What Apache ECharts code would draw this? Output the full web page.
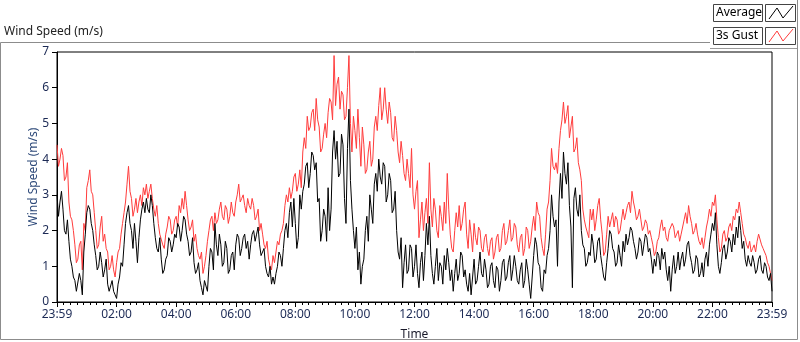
<!DOCTYPE html>
<html>
<head>
<meta charset="utf-8">
<title>Wind Speed</title>
<script src="https://cdn.jsdelivr.net/npm/echarts@6/dist/echarts.min.js"></script>
<style>
  body { margin: 0; background: #fff; }
  #main { width: 800px; height: 342px; }
</style>
</head>
<body>
<div id="main"></div>
<script>
// samples every 3 minutes, from 23:59 to 23:59 next day (one row per hour)
var STEP = 3;
var tickLabels = ['23:59', '02:00', '04:00', '06:00', '08:00', '10:00', '12:00',
                  '14:00', '16:00', '18:00', '20:00', '22:00', '23:59'];

var gust = [
  4.4,3.8, 4.0,4.3, 4.1,3.4, 3.5,3.9, 2.8,2.4, 2.3,2.0, 1.6,1.1, 1.2,1.6, 1.7,0.9, 2.2,2.0,
  3.2,3.4, 3.7,3.1, 3.0,2.5, 2.0,1.5, 1.6,2.1, 2.4,1.7, 1.9,1.5, 1.4,0.9, 1.0,1.3, 0.9,0.7,
  1.1,1.4, 1.5,1.9, 2.2,2.5, 2.8,3.3, 3.8,3.1, 2.9,2.4, 2.6,2.9, 2.5,2.8, 3.0,2.7, 3.2,3.0,
  3.3,2.9, 3.1,3.3, 2.9,2.6, 2.4,2.7, 2.2,1.9, 1.9,1.6, 1.5,1.9, 2.1,2.4, 2.3,1.9, 2.0,2.3,
  2.4,2.1, 2.7,2.5, 2.9,2.6, 3.1,2.7, 2.3,2.0, 2.1,2.3, 1.7,1.9, 1.5,1.3, 1.2,1.4, 0.8,1.0,
  1.3,1.7, 2.0,2.3, 2.4,2.0, 2.5,2.2, 2.3,2.6, 2.8,2.4, 2.3,2.7, 2.6,2.2, 2.4,2.8, 2.5,2.4,
  2.8,3.0, 3.3,2.8, 2.9,3.0, 2.7,2.5, 2.9,2.7, 2.6,2.9, 2.7,2.3, 2.4,2.6, 2.0,2.2, 1.9,1.6,
  1.5,1.7, 1.2,1.0, 0.9,1.3, 1.1,1.4, 1.7,1.6, 1.9,2.0, 2.2,2.7, 3.0,2.8, 3.2,2.9, 3.1,3.5,
  3.6,3.1, 3.3,3.7, 3.2,4.2, 4.6,4.3, 5.2,4.8, 4.9,5.3, 5.4,4.8, 5.7,5.1, 4.9,4.2, 4.3,4.7,
  5.0,4.6, 5.3,5.7, 5.6,5.1, 6.9,5.5, 6.1,6.3, 5.4,5.9, 5.8,5.1, 5.2,6.0, 6.9,5.0, 4.2,5.2,
  4.8,4.3, 5.4,4.6, 3.8,4.9, 4.4,3.6, 3.7,4.2, 4.5,3.8, 4.0,4.9, 5.2,4.8, 5.5,6.0, 5.1,5.4,
  6.0,5.4, 5.0,5.6, 5.3,4.6, 4.5,5.2, 4.8,4.2, 3.9,4.5, 4.1,3.6, 3.4,4.0, 3.6,3.2, 4.3,3.0,
  2.6,3.1, 3.4,1.8, 2.3,2.8, 2.0,2.5, 2.9,2.2, 3.9,2.6, 2.1,2.9, 2.6,2.0, 1.8,2.7, 2.4,2.0,
  2.8,2.2, 3.6,2.6, 1.9,1.5, 1.4,2.0, 2.5,2.1, 2.7,2.0, 2.2,2.6, 2.8,1.9, 1.5,2.3, 1.9,1.4,
  2.2,1.8, 1.6,2.1, 2.0,1.5, 1.4,1.8, 1.9,1.5, 1.3,1.7, 1.8,1.2, 1.4,1.8, 1.9,1.4, 1.5,2.0,
  2.2,1.6, 1.7,2.0, 2.3,1.7, 1.8,2.2, 2.1,1.6, 1.4,1.8, 1.9,1.3, 1.5,2.1, 2.0,1.5, 1.7,2.1,
  2.4,2.0, 2.8,2.5, 2.4,1.8, 1.5,1.3, 1.9,2.6, 2.8,3.4, 4.3,3.8, 3.7,3.9, 3.6,4.3, 4.8,5.1,
  5.6,5.0, 5.2,5.5, 4.6,4.9, 5.2,4.2, 4.3,4.6, 3.9,3.7, 3.4,2.6, 2.3,2.1, 2.1,1.8, 2.6,2.3,
  2.6,2.0, 2.3,2.7, 2.9,2.3, 1.9,1.3, 1.4,1.9, 2.4,2.1, 2.3,2.5, 2.1,2.4, 2.3,1.9, 2.0,2.3,
  2.6,2.3, 2.5,2.7, 2.8,2.5, 3.1,2.8, 2.6,2.3, 2.4,2.6, 2.3,2.0, 2.1,2.3, 2.2,1.9, 2.0,1.8,
  1.6,1.3, 1.4,1.7, 1.8,2.1, 2.3,2.0, 2.1,1.8, 1.7,2.0, 2.0,2.2, 2.1,1.8, 1.9,2.0, 1.7,1.9,
  2.1,2.3, 2.5,2.2, 2.7,2.4, 2.2,1.9, 2.0,2.2, 1.9,1.7, 1.6,1.8, 1.5,1.8, 2.1,2.3, 2.6,2.4,
  2.8,2.7, 3.0,2.3, 1.8,1.4, 1.5,1.9, 2.0,1.7, 1.8,2.1, 2.2,2.0, 2.4,2.3, 2.6,2.5, 2.8,2.5,
  2.2,1.9, 1.8,1.6, 1.5,1.7, 1.4,1.5, 1.6,1.4, 1.7,1.9, 1.9,1.6, 1.5,1.4, 1.3,1.1, 1.0,0.8,
  0.6
];

var average = [
  3.0,2.4, 2.8,3.1, 2.6,2.0, 1.9,2.3, 1.7,1.2, 1.0,0.7, 0.6,0.3, 0.3,0.8, 0.6,0.2, 1.4,1.9,
  2.5,2.7, 2.6,2.2, 2.0,1.6, 1.3,0.9, 1.0,1.4, 1.1,0.7, 0.9,1.2, 0.5,0.3, 0.3,0.6, 0.3,0.2,
  0.1,0.5, 0.7,1.1, 1.0,1.6, 2.2,2.5, 2.7,2.2, 2.0,1.5, 2.2,1.7, 1.1,1.8, 2.3,2.6, 2.8,2.5,
  2.9,2.6, 2.5,3.0, 2.7,2.2, 1.8,1.5, 1.4,1.8, 1.2,0.8, 0.9,1.2, 1.3,1.8, 1.7,1.4, 1.6,1.9,
  1.8,2.2, 2.1,1.7, 2.0,2.4, 2.3,1.9, 1.7,1.3, 1.4,1.8, 1.1,0.8, 0.9,1.1, 0.6,0.4, 0.2,0.6,
  0.6,0.3, 1.0,1.5, 1.4,0.9, 2.2,1.6, 1.3,1.9, 1.6,1.0, 1.1,1.7, 1.5,0.8, 0.9,1.3, 1.4,0.9,
  1.6,1.9, 1.8,1.3, 1.5,1.8, 1.9,1.5, 1.7,1.2, 1.6,1.9, 2.0,1.7, 1.9,2.1, 1.6,1.3, 1.3,1.5,
  1.0,0.8, 0.7,1.0, 0.5,0.7, 0.5,0.8, 1.0,1.4, 1.3,1.0, 1.5,2.0, 2.2,1.8, 2.5,2.8, 2.1,2.9,
  2.2,1.5, 1.8,3.0, 2.6,3.1, 3.3,3.8, 3.9,3.2, 3.6,4.2, 4.1,3.7, 3.9,2.8, 2.9,1.7, 2.0,2.6,
  2.4,1.7, 3.2,2.0, 2.6,4.2, 4.8,4.0, 4.5,3.5, 3.6,4.7, 4.4,2.9, 2.2,4.3, 5.4,3.4, 2.6,2.0,
  1.5,2.1, 0.9,1.4, 0.5,1.0, 1.2,2.0, 2.4,1.7, 3.0,2.6, 2.2,3.3, 3.6,3.1, 4.0,3.5, 3.3,3.9,
  3.8,2.8, 3.0,3.6, 3.4,2.5, 2.6,3.1, 2.0,1.4, 1.2,1.8, 0.4,1.1, 1.6,0.8, 0.9,1.6, 1.5,0.7,
  1.0,1.6, 0.8,0.4, 1.1,1.4, 0.6,1.3, 2.2,1.6, 2.4,1.3, 0.8,0.5, 1.0,1.5, 0.6,1.1, 1.0,0.5,
  1.3,0.9, 1.5,1.1, 0.6,0.9, 0.3,0.8, 1.2,0.6, 0.8,1.4, 1.3,0.7, 0.9,0.5, 0.3,0.8, 0.2,0.7,
  1.2,0.5, 0.6,1.0, 1.4,0.8, 0.7,1.2, 0.9,0.4, 0.5,1.0, 1.1,0.6, 0.4,1.0, 0.9,0.3, 0.6,1.1,
  1.2,0.6, 0.7,1.1, 1.3,0.6, 0.9,1.3, 1.0,0.6, 0.5,0.9, 1.1,0.4, 0.6,1.2, 0.9,0.5, 0.1,0.7,
  1.3,1.8, 1.6,1.1, 1.0,0.4, 0.3,0.9, 0.8,1.3, 1.5,2.0, 3.0,2.4, 2.1,2.3, 1.0,2.8, 3.6,2.9,
  4.2,3.6, 3.3,3.9, 2.7,2.1, 0.4,2.9, 3.2,2.6, 2.4,3.0, 2.0,1.6, 1.5,1.0, 1.1,1.4, 1.3,1.9,
  1.6,1.1, 1.2,1.7, 1.8,1.3, 1.0,0.7, 0.6,1.1, 1.5,2.0, 1.9,1.5, 1.4,1.0, 1.1,1.6, 1.3,1.0,
  1.7,1.4, 1.9,1.6, 1.8,2.1, 2.0,1.7, 1.5,1.2, 1.4,1.8, 1.7,1.3, 1.6,1.9, 1.8,1.4, 1.5,1.2,
  0.8,1.2, 1.0,1.4, 1.3,0.9, 1.5,1.2, 1.4,0.9, 0.6,1.0, 0.3,0.9, 1.3,0.8, 1.0,1.4, 0.9,1.2,
  1.4,1.0, 1.2,1.6, 1.7,1.3, 1.1,0.8, 0.9,1.3, 1.2,0.7, 0.8,1.1, 0.7,1.2, 1.4,1.0, 1.6,1.9,
  2.2,2.0, 2.5,1.6, 1.0,0.8, 1.1,1.5, 1.6,1.2, 1.4,1.8, 1.7,1.4, 1.9,1.6, 2.1,1.8, 2.4,2.0,
  1.5,1.7, 1.2,1.0, 1.3,1.1, 1.0,1.3, 1.1,0.8, 0.9,1.2, 1.3,0.9, 0.8,1.1, 1.0,0.7, 0.6,0.8,
  0.3
];

function toPairs(arr) {
  return arr.map(function (v, i) { return [i * STEP, v]; });
}

var font = 'Noto Sans';
var labelColor = '#1c2a55';

var myChart = echarts.init(document.getElementById('main'), null, { renderer: 'canvas' });

myChart.setOption({
  animation: false,
  backgroundColor: '#fff',
  grid: {
    left: 57, top: 52, right: 28, bottom: 40,
    outerBoundsMode: 'none', containLabel: false,
    show: true, borderColor: '#000', borderWidth: 1
  },
  xAxis: {
    type: 'value',
    min: 0,
    max: 1440,
    interval: 120,
    axisLine: { lineStyle: { color: '#000' } },
    axisTick: { length: 5, lineStyle: { color: '#000' } },
    minorTick: { show: true, splitNumber: 9, length: 3, lineStyle: { color: '#000' } },
    splitLine: { show: false },
    axisLabel: {
      color: labelColor, fontSize: 12, fontFamily: font, margin: 7,
      formatter: function (v) { return tickLabels[Math.round(v / 120)]; }
    },
    name: 'Time',
    nameLocation: 'middle',
    nameGap: 27,
    nameMoveOverlap: false,
    nameTextStyle: { color: '#1a1a2a', fontSize: 12, fontFamily: font }
  },
  yAxis: {
    type: 'value',
    min: 0,
    max: 7,
    interval: 1,
    axisLine: { show: true, lineStyle: { color: '#000' } },
    axisTick: { show: true, length: 5, lineStyle: { color: '#000' } },
    splitLine: { show: false },
    axisLabel: { color: labelColor, fontSize: 12, fontFamily: font, margin: 8 },
    name: 'Wind Speed (m/s)',
    nameLocation: 'middle',
    nameRotate: 90,
    nameGap: 17,
    nameMoveOverlap: false,
    nameTextStyle: { color: '#2e4a7a', fontSize: 12, fontFamily: font }
  },
  series: [
    {
      name: '3s Gust',
      type: 'line',
      data: toPairs(gust),
      showSymbol: false,
      symbol: 'none',
      lineStyle: { color: '#ff3c3c', width: 1 },
      silent: true
    },
    {
      name: 'Average',
      type: 'line',
      data: toPairs(average),
      showSymbol: false,
      symbol: 'none',
      lineStyle: { color: '#000', width: 1 },
      silent: true
    }
  ],
  graphic: [
    // outer frame of the chart control
    { type: 'rect', shape: { x: 0.5, y: 42.5, width: 797, height: 297 },
      style: { fill: null, stroke: '#8c8c8c', lineWidth: 1 }, silent: true },
    // right edge of the plot area is grey
    { type: 'line', shape: { x1: 772.5, y1: 52, x2: 772.5, y2: 302 },
      style: { stroke: '#808080', lineWidth: 1 }, silent: true },
    // legend panel covering the top right corner
    { type: 'rect', shape: { x: 710, y: 0, width: 90, height: 48 },
      style: { fill: '#fff' }, silent: true },
    { type: 'line', shape: { x1: 710, y1: 48.5, x2: 798, y2: 48.5 },
      style: { stroke: '#9a9a9a', lineWidth: 1 }, silent: true },
    { type: 'line', shape: { x1: 797.5, y1: 0, x2: 797.5, y2: 49 },
      style: { stroke: '#8c8c8c', lineWidth: 1 }, silent: true },
    { type: 'rect', shape: { x: 713.5, y: 4.5, width: 49, height: 17 },
      style: { fill: '#fff', stroke: '#444', lineWidth: 1 }, silent: true },
    { type: 'rect', shape: { x: 765.5, y: 4.5, width: 30, height: 17 },
      style: { fill: '#fff', stroke: '#444', lineWidth: 1 }, silent: true },
    { type: 'polyline', shape: { points: [[769, 19], [777, 8], [783, 18], [793, 6]] },
      style: { stroke: '#000', lineWidth: 1, fill: null }, silent: true },
    { type: 'text', x: 716, y: 13, style: { text: 'Average', fill: '#000',
      font: '12px "Noto Sans"', verticalAlign: 'middle' }, silent: true },
    { type: 'rect', shape: { x: 713.5, y: 27.5, width: 49, height: 17 },
      style: { fill: '#fff', stroke: '#444', lineWidth: 1 }, silent: true },
    { type: 'rect', shape: { x: 765.5, y: 27.5, width: 30, height: 17 },
      style: { fill: '#fff', stroke: '#444', lineWidth: 1 }, silent: true },
    { type: 'polyline', shape: { points: [[769, 42], [777, 31], [783, 41], [793, 29]] },
      style: { stroke: '#ff3c3c', lineWidth: 1, fill: null }, silent: true },
    { type: 'text', x: 716, y: 36, style: { text: '3s Gust', fill: '#000',
      font: '12px "Noto Sans"', verticalAlign: 'middle' }, silent: true },
    // chart caption
    { type: 'text', x: 4, y: 32, style: { text: 'Wind Speed (m/s)', fill: '#222',
      font: '12px "Noto Sans"', verticalAlign: 'middle' }, silent: true }
  ]
});
</script>
</body>
</html>
